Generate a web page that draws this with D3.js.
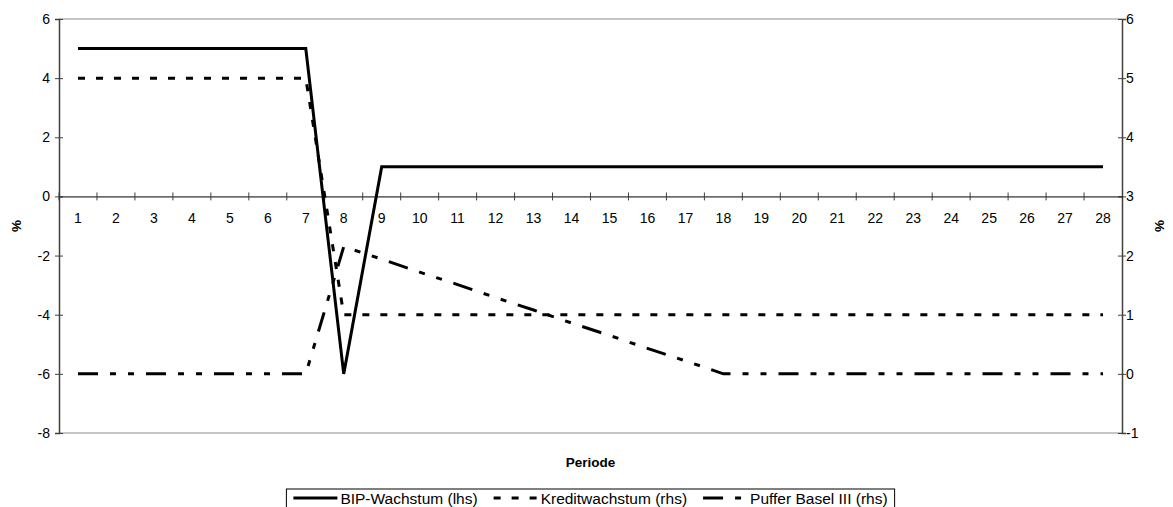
<!DOCTYPE html>
<html>
<head>
<meta charset="utf-8">
<script src="https://cdn.jsdelivr.net/npm/d3@7"></script>
<style>
  body { margin: 0; background: #fff; }
  svg { display: block; font-family: "Liberation Sans", Arial, sans-serif; }
  .tick text { font-size: 14px; fill: #000; }
  .ttl { font-size: 13.5px; font-weight: bold; }
  .leg text { font-size: 15.5px; }
</style>
</head>
<body>
<svg id="chart" width="1173" height="507"></svg>
<script>
const periods = [1, 2, 3, 4, 5, 6, 7, 8, 9, 10, 11, 12, 13, 14, 15, 16, 17, 18, 19, 20, 21, 22, 23, 24, 25, 26, 27, 28];
const bip = [5, 5, 5, 5, 5, 5, 5, -6, 1, 1, 1, 1, 1, 1, 1, 1, 1, 1, 1, 1, 1, 1, 1, 1, 1, 1, 1, 1];
const kredit = [5, 5, 5, 5, 5, 5, 5, 1, 1, 1, 1, 1, 1, 1, 1, 1, 1, 1, 1, 1, 1, 1, 1, 1, 1, 1, 1, 1];
const puffer = [0, 0, 0, 0, 0, 0, 0, 2.15, 1.94, 1.72, 1.51, 1.29, 1.08, 0.86, 0.65, 0.43, 0.22, 0, 0, 0, 0, 0, 0, 0, 0, 0, 0, 0];
const leftTicks = [-8, -6, -4, -2, 0, 2, 4, 6];
const rightTicks = [-1, 0, 1, 2, 3, 4, 5, 6];

const series = [
  { name: "BIP-Wachstum (lhs)", values: bip, axis: "left", dash: null },
  { name: "Kreditwachstum (rhs)", values: kredit, axis: "right", dash: "7,11" },
  { name: "Puffer Basel III (rhs)", values: puffer, axis: "right", dash: "20,12,6,12,6,12" }
];

const svg = d3.select("#chart");
const x0 = 59, x1 = 1122, yTop = 19, yBot = 433;
const fmt = d => String(d);

const x = d3.scaleBand().domain(periods).range([x0, x1]).paddingInner(0).paddingOuter(0);
const yL = d3.scaleLinear().domain([-8, 6]).range([yBot, yTop]);
const yR = d3.scaleLinear().domain([-1, 6]).range([yBot, yTop]);

// plot frame top/bottom
svg.append("line").attr("x1", x0).attr("x2", x1).attr("y1", yTop).attr("y2", yTop)
  .attr("stroke", "#8c8c8c").attr("stroke-width", 1);
svg.append("line").attr("x1", x0).attr("x2", x1).attr("y1", yBot).attr("y2", yBot)
  .attr("stroke", "#8c8c8c").attr("stroke-width", 1);

// left axis
const gL = svg.append("g").attr("transform", `translate(${x0},0)`)
  .call(d3.axisLeft(yL).tickValues(leftTicks).tickFormat(fmt).tickSize(4).tickPadding(5));
gL.select(".domain").attr("stroke", "#404040").attr("stroke-width", 1.5);
gL.selectAll(".tick line").attr("x1", 4).attr("stroke", "#404040");

// right axis
const gR = svg.append("g").attr("transform", `translate(${x1},0)`)
  .call(d3.axisRight(yR).tickValues(rightTicks).tickFormat(fmt).tickSize(4).tickPadding(0));
gR.select(".domain").attr("stroke", "#404040").attr("stroke-width", 1.5);
gR.selectAll(".tick line").attr("x1", -4).attr("stroke", "#404040");

// category axis at y = 0
const y0 = yL(0);
const gX = svg.append("g").attr("transform", `translate(0,${y0})`)
  .call(d3.axisBottom(x).tickSize(0).tickPadding(17));
gX.select(".domain").attr("stroke", "#000").attr("stroke-width", 1);
gX.selectAll(".tick")
  .append("line")
  .attr("x1", -x.bandwidth() / 2).attr("x2", -x.bandwidth() / 2)
  .attr("y1", -4).attr("y2", 4)
  .attr("stroke", "#404040");

// lines
const cx = d => x(d) + x.bandwidth() / 2;
series.forEach(s => {
  const ys = s.axis === "left" ? yL : yR;
  const line = d3.line().x((d, i) => cx(periods[i])).y(d => ys(d));
  svg.append("path")
    .datum(s.values)
    .attr("d", line)
    .attr("fill", "none")
    .attr("stroke", "#000")
    .attr("stroke-width", 3)
    .attr("stroke-dasharray", s.dash);
});

// axis titles
const midY = (yTop + yBot) / 2;
svg.append("text").attr("class", "ttl")
  .attr("transform", `translate(21,${midY}) rotate(-90)`)
  .attr("text-anchor", "middle").text("%");
svg.append("text").attr("class", "ttl")
  .attr("transform", `translate(1164,${midY}) rotate(-90)`)
  .attr("text-anchor", "middle").text("%");
svg.append("text").attr("class", "ttl")
  .attr("x", (x0 + x1) / 2).attr("y", 467)
  .attr("text-anchor", "middle").text("Periode");

// legend
const leg = svg.append("g").attr("class", "leg");
const box = leg.append("rect").attr("fill", "#fff").attr("stroke", "#000").attr("stroke-width", 1);
const offsets = [];
let lx = 0;
series.forEach(s => {
  const g = leg.append("g").attr("class", "item");
  g.append("line").attr("x1", 0).attr("x2", 44).attr("y1", 0).attr("y2", 0)
    .attr("stroke", "#000").attr("stroke-width", 3).attr("stroke-dasharray", s.dash);
  const t = g.append("text").attr("x", 47).attr("y", 5.5).text(s.name);
  offsets.push(lx);
  lx += 47 + t.node().getComputedTextLength() + 16;
});
const pad = 7;
const legW = lx - 16 + pad * 2;
const legX = (x0 + x1) / 2 - legW / 2;
leg.selectAll("g.item").attr("transform", (d, i) => `translate(${legX + pad + offsets[i]},498)`);
box.attr("x", legX).attr("y", 489).attr("width", legW).attr("height", 30);
</script>
</body>
</html>
